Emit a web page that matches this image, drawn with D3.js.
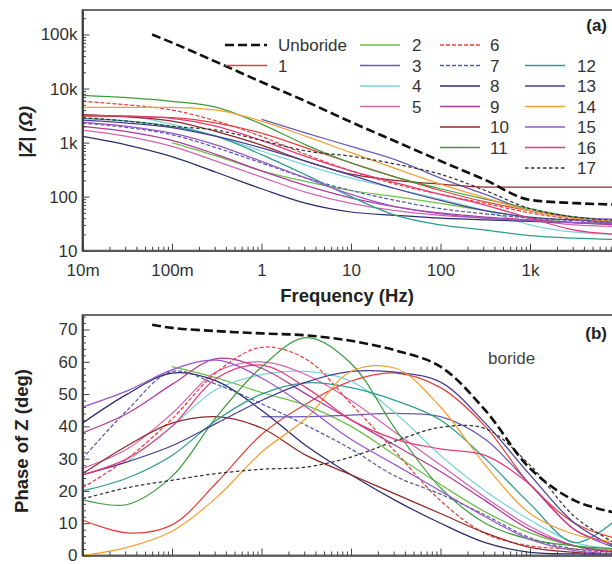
<!DOCTYPE html>
<html><head><meta charset="utf-8">
<script src="https://cdn.jsdelivr.net/npm/d3@7"></script>
<style>html,body{margin:0;padding:0;background:#fff;} svg{display:block;font-family:Arial,"Liberation Sans",sans-serif;}</style>
</head><body><svg id="c" width="612" height="564"></svg>
<script>
// ---------- DATA ----------
const freqHz = [0.01, 0.0316, 0.1, 0.316, 1, 3.16, 10, 31.6, 100, 316, 1000, 3160, 10000];
const unborideFreqHz = [0.06, 0.1, 0.316, 1, 3.16, 10, 31.6, 100, 316, 1000, 3160, 10000];

const seriesNames = ["Unboride","1","2","3","4","5","6","7","8","9","10","11","12","13","14","15","16","17"];
const seriesColors = ["#111111","#e8413c","#6cc04a","#6a5bb5","#7dd3dc","#d465b0","#e8413c","#5a5aa8","#2b2d6e","#b03a9c","#8e2a2a","#3f9c3f","#2e9c8c","#4a3f96","#f5a035","#9a55c6","#e83a78","#333333"];
const seriesDash = ["9,4",null,null,null,null,null,"4,2","4,2",null,null,null,null,null,null,null,null,null,"3.5,2.5"];

// |Z| in ohm
const zUnboride = [100000, 70800, 30900, 13200, 5750, 2400, 1050, 457, 204, 87, 76, 71];
const z1  = [3100, 3050, 2900, 2300, 1500, 800, 420, 230, 130, 80, 55, 40, 35];
const z2  = [null, null, 1000, 560, 300, 190, 130, 100, 75, 55, 40, 33, 30];
const z3  = [null, null, null, null, 2700, 1500, 850, 480, 220, 110, 55, 42, 38];
const z4  = [null, 3200, 2200, 1300, 700, 380, 220, 140, 90, 55, 30, 22, 20];
const z5  = [1700, 1300, 850, 450, 230, 120, 75, 55, 45, 40, 36, 30, 28];
const z6  = [5800, 5000, 4000, 2500, 1300, 600, 300, 170, 110, 75, 50, 38, 32];
const z7  = [2300, 1900, 1400, 800, 420, 220, 130, 85, 60, 48, 40, 36, 33];
const z8  = [1300, 900, 550, 280, 140, 75, 52, 45, 40, 37, 35, 33, 32];
const z9  = [2000, 1600, 1100, 600, 300, 160, 95, 65, 50, 42, 37, 33, 30];
const z10 = [3300, 3000, 2500, 1600, 900, 450, 260, 200, 170, 150, 150, 150, 150];
const z11 = [7500, 6800, 5800, 4500, 2200, 900, 420, 230, 140, 90, 60, 42, 35];
const z12 = [2800, 2500, 2000, 1300, 600, 250, 100, 45, 30, 24, 19, 17, 16];
const z13 = [2600, 2300, 1900, 1300, 800, 450, 250, 140, 85, 55, 42, 37, 35];
const z14 = [4500, 4500, 4500, 4000, 2500, 1300, 650, 330, 170, 95, 55, 40, 35];
const z15 = [2400, 2000, 1500, 900, 450, 220, 110, 65, 48, 40, 36, 33, 32];
const z16 = [3200, 3100, 2800, 2000, 1100, 550, 300, 180, 110, 70, 40, 24, 20];
const z17 = [2900, 2500, 2000, 1700, 1100, 700, 560, 400, 260, 130, 60, 42, 36];

// phase of Z in degrees
const pUnboride = [71.5, 70.5, 69.5, 68.8, 68.2, 66.5, 63.5, 58.5, 45, 27, 17, 13];
const p1  = [11, 7, 9.5, 22.6, 37.5, 47, 54, 56.5, 52, 40, 22, 10, 5];
const p2  = [null, null, 58.5, 55, 50.5, 46.5, 40, 31, 22, 13.5, 7, 3, 1.5];
const p3  = [null, null, null, null, 43, 43, 43.5, 44, 43, 36, 22, 8, 2];
const p4  = [null, 29, 40, 51.5, 56, 57, 54, 44, 31, 20, 11, 4, 2];
const p5  = [27, 33, 44, 57, 60, 56, 48, 38, 28, 18, 9, 3, 1];
const p6  = [21, 30, 42.3, 56.8, 64.5, 60.8, 47, 32, 17, 6.8, 3, 2, 1.5];
const p7  = [30, 45, 57, 53, 47, 40.3, 33, 24.5, 19, 12.5, 5.5, 2, 1];
const p8  = [41, 50, 56.5, 54, 45, 34, 25, 17, 10, 4, 1, 0.5, 0.5];
const p9  = [38, 44, 53, 61, 58, 50, 42, 34, 26, 17, 8, 3, 1];
const p10 = [25.3, 34, 41, 43, 39.5, 31, 25, 19, 13, 7, 2.5, 1, 0.5];
const p11 = [17.2, 15.8, 24.5, 43, 58.4, 67.5, 59.5, 39, 21, 10, 5, 3, 2];
const p12 = [20, 24, 31, 42, 50, 53.5, 52, 48, 42, 30, 16, 4, 12];
const p13 = [25, 29, 34, 41, 48, 53.7, 57, 56.8, 53.7, 41, 25, 10, 2];
const p14 = [0, 2.5, 7.5, 18, 32, 42.5, 57, 58, 46, 28, 13, 6.5, 4];
const p15 = [46, 51, 57.5, 60.5, 55, 46, 36, 28, 20, 12, 5, 1.5, 0.5];
const p16 = [25, 30, 40, 55, 59, 52, 42, 36, 33, 31, 22, 8, 3];
const p17 = [17.5, 21, 23.3, 25.4, 26.7, 27.4, 30.5, 35.5, 39.7, 39.3, 28, 12, 3];

const xTickValues = [0.01, 0.1, 1, 10, 100, 1000, 10000];
const xTickLabels = ["10m","100m","1","10","100","1k",""];
const zTickValues = [10, 100, 1000, 10000, 100000];
const zTickLabels = ["10","100","1k","10k","100k"];
const phaseTickValues = [0, 10, 20, 30, 40, 50, 60, 70];

// legend layout: columns of series names (null = empty slot)
const legendColumns = [["Unboride","1"],["2","3","4","5"],["6","7","8","9","10","11"],[null,"12","13","14","15","16","17"]];

// ---------- BUILD ----------
const zArrays = [zUnboride,z1,z2,z3,z4,z5,z6,z7,z8,z9,z10,z11,z12,z13,z14,z15,z16,z17];
const pArrays = [pUnboride,p1,p2,p3,p4,p5,p6,p7,p8,p9,p10,p11,p12,p13,p14,p15,p16,p17];
const series = seriesNames.map((n,i)=>{
  const f = i===0 ? unborideFreqHz : freqHz;
  return {name:n, color:seriesColors[i], dash:seriesDash[i],
    mag: f.map((fr,j)=>({f:fr, v:zArrays[i][j]})),
    ph:  f.map((fr,j)=>({f:fr, v:pArrays[i][j]}))};
});

const svg = d3.select("#c");
const X0 = 82.5, X1 = 619.5;
const x = d3.scaleLog().domain([0.01, 10000]).range([X0, X1]);
const yTop = d3.scaleLog().domain([10, 284000]).range([250.7, 10]);
const yBot = d3.scaleLinear().domain([0, 74.5]).range([555.5, 315]);

const defs = svg.append("defs");
defs.append("clipPath").attr("id","clipA").append("rect").attr("x",X0).attr("y",10).attr("width",X1-X0).attr("height",250.7-10);
defs.append("clipPath").attr("id","clipB").append("rect").attr("x",X0).attr("y",315).attr("width",X1-X0).attr("height",555.5-315);

function minorLog(lo, hi){ const out=[]; for(let e=lo;e<hi;e++){ for(let k=2;k<=9;k++) out.push(k*Math.pow(10,e)); } return out; }

function drawPanel(yScale, yTicks, yLabels, yMinor, key, clipId, top, bottom, curve, showXLabels){
  svg.append("rect").attr("x",X0).attr("y",top).attr("width",X1-X0).attr("height",bottom-top)
    .attr("fill","none").attr("stroke","#6b6b6b").attr("stroke-width",2);
  const g = svg.append("g").attr("clip-path",`url(#${clipId})`);
  const line = d3.line().defined(d=>d.v!==null).x(d=>x(d.f)).y(d=>yScale(d.v)).curve(curve);
  const order = series.slice(1).concat([series[0]]);
  order.forEach(s=>{
    g.append("path").datum(s[key]).attr("d",line).attr("fill","none")
      .attr("stroke",s.color).attr("stroke-width", s.name==="Unboride"?2.6:1.25)
      .attr("stroke-dasharray", s.dash).attr("stroke-linejoin","round");
  });
  const xa = svg.append("g").attr("transform",`translate(0,${bottom})`)
    .call(d3.axisBottom(x).tickValues(xTickValues).tickFormat((d,i)=>showXLabels?xTickLabels[i]:"").tickSize(-7).tickSizeOuter(0).tickPadding(13));
  xa.select(".domain").attr("stroke","#555").attr("stroke-width",1.6);
  xa.selectAll(".tick line").attr("stroke","#444");
  xa.selectAll("text").attr("font-size",17).attr("fill","#333");
  if(!showXLabels) xa.selectAll("text").remove();
  const xm = svg.append("g").attr("transform",`translate(0,${bottom})`)
    .call(d3.axisBottom(x).tickValues(minorLog(-2,4)).tickFormat("").tickSize(-4).tickSizeOuter(0));
  xm.select(".domain").remove(); xm.selectAll(".tick line").attr("stroke","#444"); xm.selectAll("text").remove();
  const ya = svg.append("g").attr("transform",`translate(${X0},0)`)
    .call(d3.axisLeft(yScale).tickValues(yTicks).tickFormat((d,i)=>yLabels[i]).tickSize(-7).tickSizeOuter(0).tickPadding(5));
  ya.select(".domain").attr("stroke","#333").attr("stroke-width",1.6);
  ya.selectAll(".tick line").attr("stroke","#444");
  ya.selectAll("text").attr("font-size",17).attr("fill","#333");
  const ym = svg.append("g").attr("transform",`translate(${X0},0)`)
    .call(d3.axisLeft(yScale).tickValues(yMinor).tickFormat("").tickSize(-3.5).tickSizeOuter(0));
  ym.select(".domain").remove(); ym.selectAll(".tick line").attr("stroke","#444"); ym.selectAll("text").remove();
}

drawPanel(yTop, zTickValues, zTickLabels, minorLog(1,5).concat([200000]), "mag", "clipA", 10, 250.7, d3.curveMonotoneX, true);
drawPanel(yBot, phaseTickValues, phaseTickValues.map(String), d3.range(0,75,2).filter(v=>v%10!==0), "ph", "clipB", 315, 555.5, d3.curveCatmullRom.alpha(0.5), false);

// axis titles
svg.append("text").attr("transform","translate(32,132) rotate(-90)").attr("text-anchor","middle")
  .attr("font-size",18).attr("font-weight","bold").attr("font-style","italic").attr("fill","#222").text("|Z| (Ω)");
svg.append("text").attr("x",347).attr("y",302).attr("text-anchor","middle")
  .attr("font-size",18.5).attr("font-weight","bold").attr("fill","#222").text("Frequency (Hz)");
svg.append("text").attr("transform","translate(28,441) rotate(-90)").attr("text-anchor","middle")
  .attr("font-size",18.5).attr("font-weight","bold").attr("fill","#222").text("Phase of Z (deg)");
svg.append("text").attr("x",607).attr("y",31).attr("text-anchor","end").attr("font-size",17).attr("font-weight","bold").attr("fill","#222").text("(a)");
svg.append("text").attr("x",607).attr("y",339).attr("text-anchor","end").attr("font-size",17).attr("font-weight","bold").attr("fill","#222").text("(b)");
svg.append("text").attr("x",488).attr("y",364).attr("font-size",17).attr("fill","#444").text("boride");

// legend
const colX = [[225,267,278],[360,400,412],[440,480,490],[525,565,577]];
const rowY0 = 45, rowDy = 20.5;
const lg = svg.append("g");
legendColumns.forEach((col,ci)=>{
  col.forEach((name,ri)=>{
    if(name===null) return;
    const s = series.find(d=>d.name===name);
    const yy = rowY0 + ri*rowDy;
    lg.append("line").attr("x1",colX[ci][0]).attr("x2",colX[ci][1]).attr("y1",yy).attr("y2",yy)
      .attr("stroke",s.color).attr("stroke-width",s.name==="Unboride"?2.6:1.4).attr("stroke-dasharray",s.dash);
    lg.append("text").attr("x",colX[ci][2]).attr("y",yy).attr("dy","0.36em").attr("font-size",17).attr("fill","#333").text(name);
  });
});
</script></body></html>
